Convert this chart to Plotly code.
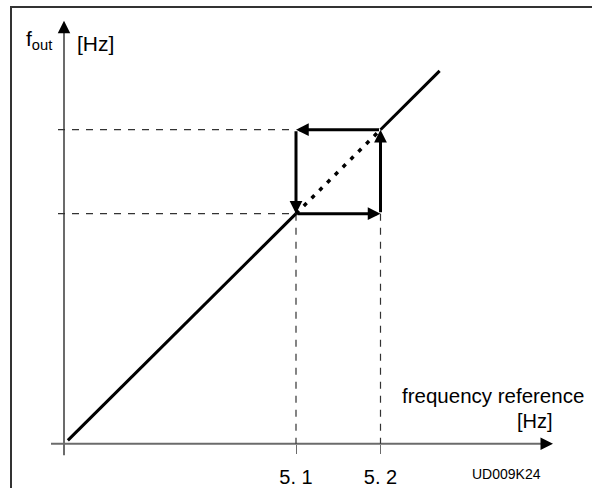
import plotly.graph_objects as go

# ==== data (Hz) ====
f_low = 5.1          # switching threshold going down
f_high = 5.2         # switching threshold going up
line_start = 4.83    # start of the characteristic
line_end = 5.27      # end of the characteristic
tick_vals = [f_low, f_high]
tick_text = ["5. 1", "5. 2"]

# hysteresis loop corners, walked in the direction of the arrows
loop_x = [f_low, f_high, f_high, f_low, f_low]
loop_y = [f_low, f_low, f_high, f_high, f_low]

# ==== layout helpers (pixel -> axis units) ====
W, H = 592, 488
K = 845.0            # pixels per Hz
X0_PX, Y0_PX = 296, 215   # pixel position of f_low on each axis


def px_x(p):
    return f_low + (p - X0_PX) / K


def px_y(p):
    return f_low + (Y0_PX - p) / K


origin = px_x(64)
axis_color = "#6b6b6b"
font = "Liberation Sans, Arial, sans-serif"

fig = go.Figure()

# axes
fig.add_trace(go.Scatter(x=[px_x(51), px_x(550)], y=[px_y(446.5)] * 2, mode="lines",
                         line=dict(color=axis_color, width=2), hoverinfo="skip"))
fig.add_trace(go.Scatter(x=[origin] * 2, y=[px_y(458), px_y(23)], mode="lines",
                         line=dict(color=axis_color, width=2), hoverinfo="skip"))

# thin dashed guides
dash = "7px,7px"
for yv in [f_low, f_high]:
    fig.add_trace(go.Scatter(x=[px_x(58), f_low], y=[yv, yv], mode="lines",
                             line=dict(color="#333", width=1.2, dash=dash), hoverinfo="skip"))
for xv in [f_low, f_high]:
    fig.add_trace(go.Scatter(x=[xv, xv], y=[f_low, px_y(446.5)], mode="lines",
                             line=dict(color="#333", width=1.2, dash=dash), hoverinfo="skip"))

# characteristic
fig.add_trace(go.Scatter(x=[line_start, f_low], y=[line_start, f_low], mode="lines",
                         line=dict(color="black", width=3), hoverinfo="skip"))
fig.add_trace(go.Scatter(x=[f_high, line_end], y=[f_high, line_end], mode="lines",
                         line=dict(color="black", width=3), hoverinfo="skip"))
fig.add_trace(go.Scatter(x=[f_low, f_high], y=[f_low, f_high], mode="lines",
                         line=dict(color="black", width=3.5, dash="4px,7px"), hoverinfo="skip"))

annotations = []
# loop arrows
for i in range(4):
    annotations.append(dict(x=loop_x[i + 1], y=loop_y[i + 1], ax=loop_x[i], ay=loop_y[i],
                            xref="x", yref="y", axref="x", ayref="y", text="",
                            showarrow=True, arrowhead=2, arrowsize=0.85, arrowwidth=3,
                            arrowcolor="black", standoff=0, startstandoff=0))
# axis arrowheads
annotations.append(dict(x=px_x(553), y=px_y(446.5), ax=px_x(543), ay=px_y(446.5),
                        xref="x", yref="y", axref="x", ayref="y", text="", showarrow=True,
                        arrowhead=2, arrowsize=1.25, arrowwidth=2, arrowcolor="black"))
annotations.append(dict(x=origin, y=px_y(21), ax=origin, ay=px_y(31),
                        xref="x", yref="y", axref="x", ayref="y", text="", showarrow=True,
                        arrowhead=2, arrowsize=1.25, arrowwidth=2, arrowcolor="black"))


def label(text, x, y, xanchor, size=20):
    annotations.append(dict(text=text, x=x / W, y=1 - y / H, xref="paper", yref="paper",
                            xanchor=xanchor, yanchor="middle", showarrow=False,
                            font=dict(family=font, size=size, color="black")))


label("f<sub>out</sub>", 24, 40, "left", size=21)
label("[Hz]", 75, 44, "left", size=21)
label("frequency reference", 586, 398, "right", size=20.5)
label("[Hz]", 555, 424, "right")
label("UD009K24", 506, 477, "center", size=14)

fig.update_layout(
    width=W, height=H,
    margin=dict(l=0, r=0, t=0, b=0),
    paper_bgcolor="white", plot_bgcolor="white",
    showlegend=False,
    annotations=annotations,
    shapes=[dict(type="rect", xref="paper", yref="paper",
                 x0=11 / W, x1=1.05, y0=-0.05, y1=1 - 7 / H,
                 line=dict(color="#333", width=2))],
    xaxis=dict(range=[px_x(0), px_x(W)], showgrid=False, zeroline=False, showline=False,
               anchor="free", position=1 - 446.5 / H,
               tickvals=tick_vals, ticktext=tick_text, ticks="outside", ticklen=9,
               tickwidth=1.3, tickcolor=axis_color, ticklabelstandoff=6,
               tickfont=dict(family=font, size=20, color="black")),
    yaxis=dict(range=[px_y(H), px_y(0)], showgrid=False, zeroline=False, showline=False,
               showticklabels=False, ticks=""),
)

# drop the page's default body margin so the figure sits at the window's corner
fig.write_html("out.html", config={"displayModeBar": False},
               post_script="document.body.style.margin='0';")
